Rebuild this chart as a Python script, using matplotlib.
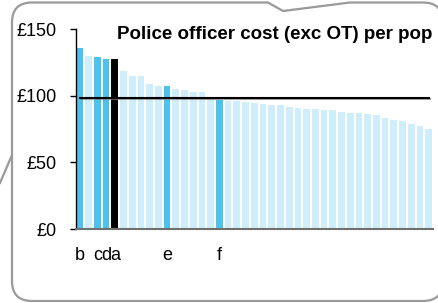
import numpy as np
import matplotlib
matplotlib.use('Agg')
import matplotlib.pyplot as plt
from matplotlib.path import Path
from matplotlib.patches import PathPatch
from matplotlib.transforms import Affine2D
import matplotlib.patheffects as pe

plt.rcParams['font.family'] = ['Liberation Sans', 'DejaVu Sans']

# cost per population, sorted high to low
values = [136, 130, 129, 127.5, 127.5, 118.5, 114.5, 114.5, 108.5, 107.5,
          107.5, 105, 104, 103, 102.5, 97.5, 96.5, 96, 96, 95,
          94.5, 93.7, 93, 93, 91.3, 90.5, 89.8, 89.8, 89.2, 89.2,
          87.7, 87.2, 87, 86.5, 85.7, 83.2, 81.7, 81, 78.7, 77.2, 75]
bar_labels = ['b', '', 'c', 'd', 'a', '', '', '', '', '',
              'e', '', '', '', '', '', 'f', '', '', '',
              '', '', '', '', '', '', '', '', '', '',
              '', '', '', '', '', '', '', '', '', '', '']
highlighted = ['b', 'c', 'd', 'e', 'f']
selected = 'a'
mean_value = 98.5
title = 'Police officer cost (exc OT) per pop'

W, H = 439, 303
fig = plt.figure(figsize=(W / 100, H / 100), dpi=100)

# callout box drawn in pixel coords (y down)
px = Affine2D().scale(1 / W, -1 / H).translate(0, 1) + fig.transFigure
L, R, T, B, r = 12, 443, 2.5, 301, 20
verts = [(L + r, T), (268, T), (283, 11), (350, T), (R - r, T),
         (R, T), (R, T + r), (R, B - r), (R, B), (R - r, B),
         (L + r, B), (L, B), (L, B - r), (L, T + r), (L, T), (L + r, T)]
codes = [Path.MOVETO, Path.LINETO, Path.LINETO, Path.LINETO, Path.LINETO,
         Path.CURVE3, Path.CURVE3, Path.LINETO, Path.CURVE3, Path.CURVE3,
         Path.LINETO, Path.CURVE3, Path.CURVE3, Path.LINETO, Path.CURVE3, Path.CURVE3]
box = PathPatch(Path(verts, codes), transform=px, facecolor='white',
                edgecolor='#9a9a9a', lw=1.6, clip_on=False, zorder=-1)
fig.patches.append(box)
fig.lines.append(plt.Line2D([0, 12], [183, 155], transform=px, color='#9a9a9a', lw=1.6, zorder=-1))

ax = fig.add_axes([76 / W, (H - 229) / H, 357 / W, 200 / H])
ax.set_zorder(2)
ax.patch.set_alpha(0)

x = np.arange(len(values))
colors = []
for lab in bar_labels:
    if lab == selected:
        colors.append('#000000')
    elif lab in highlighted:
        colors.append('#4cc3ed')
    else:
        colors.append('#cdeefa')
ax.bar(x, values, width=0.77, color=colors, zorder=2)

ax.plot([x[0], x[-1]], [mean_value, mean_value], color='black', lw=1.5, zorder=3,
        path_effects=[pe.SimpleLineShadow(offset=(0.8, -0.8), shadow_color='gray', alpha=0.7),
                      pe.Normal()])

ax.set_xlim(-0.45, len(values) - 0.5)
ax.set_ylim(0, 150)
ax.set_yticks([0, 50, 100, 150])
ax.set_yticklabels(['£0', '£50', '£100', '£150'], fontsize=13)
ax.set_xticks(x)
ax.set_xticklabels(bar_labels, fontsize=13)
ax.tick_params(axis='x', length=0, pad=13)
ax.tick_params(axis='y', direction='out', length=4.3, width=1, pad=9.5)

ax.spines['top'].set_visible(False)
ax.spines['right'].set_visible(False)
ax.spines['left'].set_linewidth(1)
ax.spines['bottom'].set_color('#707070')
ax.spines['bottom'].set_linewidth(1.5)
ax.spines['bottom'].set_zorder(4)

fig.text(117 / W, (H - 39) / H, title, fontsize=13.5, fontweight='bold', va='baseline')

fig.savefig('out.png', dpi=100)
